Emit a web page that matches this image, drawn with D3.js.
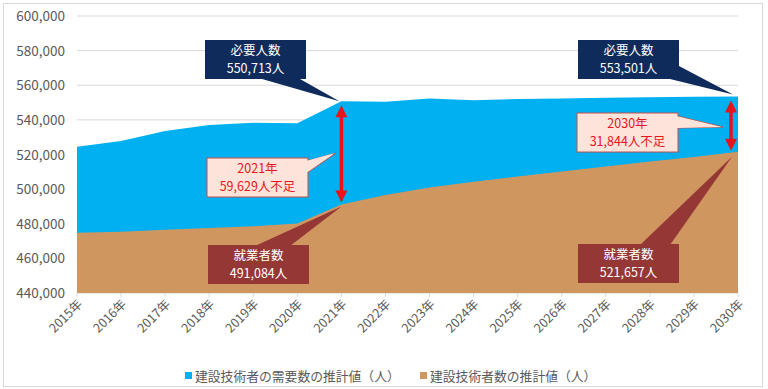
<!DOCTYPE html>
<html>
<head>
<meta charset="utf-8">
<script src="https://cdn.jsdelivr.net/npm/d3@7"></script>
<style>
  body { margin: 0; background: #fff; }
  svg { display: block; font-family: "Noto Sans CJK JP", "Noto Sans", sans-serif; }
</style>
</head>
<body>
<script>
// data
var years = ['2015年','2016年','2017年','2018年','2019年','2020年','2021年','2022年','2023年','2024年','2025年','2026年','2027年','2028年','2029年','2030年'];
var demand = [524500, 527800, 533600, 537000, 538400, 538000, 550713, 550500, 552300, 551300, 552000, 552400, 552800, 553100, 553300, 553501];
var supply = [474800, 475400, 476600, 477600, 478600, 480200, 491084, 496600, 501000, 504300, 507300, 510200, 513100, 515900, 518600, 521657];
var yTicks = [440000, 460000, 480000, 500000, 520000, 540000, 560000, 580000, 600000];
var legendNames = ['建設技術者の需要数の推計値（人）', '建設技術者数の推計値（人）'];
var colors = ['#00b0f0', '#d09660'];

var W = 768, H = 389;
var svg = d3.select('body').append('svg')
  .attr('width', W)
  .attr('height', H);

// outer border
svg.append('rect')
  .attr('x', 3.5).attr('y', 3.5)
  .attr('width', 759).attr('height', 383)
  .attr('fill', '#fff')
  .attr('stroke', '#d9d9d9');

var x = d3.scalePoint().domain(years).range([77, 738]);
var y = d3.scaleLinear().domain([440000, 600000]).range([293, 16]);

// gridlines
svg.append('g')
  .selectAll('line')
  .data(yTicks)
  .enter()
  .append('line')
  .attr('x1', 77).attr('x2', 738)
  .attr('y1', d => y(d)).attr('y2', d => y(d))
  .attr('stroke', '#d9d9d9');

// y labels
svg.append('g')
  .selectAll('text')
  .data(yTicks)
  .enter()
  .append('text')
  .attr('x', 65)
  .attr('y', d => y(d) + 5)
  .attr('text-anchor', 'end')
  .attr('font-size', 13.5)
  .attr('fill', '#595959')
  .text(d => d3.format(',')(d));

var area = function(vals){
  return d3.area()
    .x((d, i) => x(years[i]))
    .y0(y(440000))
    .y1(d => y(d))(vals);
};

svg.append('path').attr('d', area(demand)).attr('fill', colors[0]);
svg.append('path').attr('d', area(supply)).attr('fill', colors[1]);

// x axis ticks and labels
var xg = svg.append('g');
xg.selectAll('line')
  .data(years)
  .enter()
  .append('line')
  .attr('x1', d => x(d)).attr('x2', d => x(d))
  .attr('y1', 293).attr('y2', 297)
  .attr('stroke', '#d9d9d9');

xg.selectAll('text')
  .data(years)
  .enter()
  .append('text')
  .attr('text-anchor', 'end')
  .attr('transform', d => 'translate(' + (x(d) + 6) + ',305) rotate(-45)')
  .attr('font-size', 12.5)
  .attr('fill', '#595959')
  .text(d => d);

// legend
var leg = svg.append('g');
var legX = [185, 420];
legendNames.forEach(function(name, i){
  leg.append('rect')
    .attr('x', legX[i]).attr('y', 372)
    .attr('width', 7).attr('height', 7)
    .attr('fill', colors[i]);
  leg.append('text')
    .attr('x', legX[i] + 10).attr('y', 381)
    .attr('font-size', 12.8)
    .attr('fill', '#595959')
    .text(name);
});

// annotations
var i21 = years.indexOf('2021年'), i30 = years.indexOf('2030年');
var fmt = d3.format(',');

function box(bx, by, fill, stroke, tail, lines, color){
  var g = svg.append('g');
  g.append('polygon')
    .attr('points', tail.map(p => p.join(',')).join(' '))
    .attr('fill', fill)
    .attr('stroke', stroke || 'none');
  g.append('rect')
    .attr('x', bx).attr('y', by)
    .attr('width', 101).attr('height', 39)
    .attr('fill', fill)
    .attr('stroke', stroke || 'none');
  if (stroke) {
    // hide the seam where the tail joins the box
    g.append('polygon')
      .attr('points', tail.map(p => p.join(',')).join(' '))
      .attr('fill', fill)
      .attr('transform', 'translate(-1.2,0)');
  }
  lines.forEach(function(t, k){
    g.append('text')
      .attr('x', bx + 50.5)
      .attr('y', by + 15 + k * 18)
      .attr('text-anchor', 'middle')
      .attr('font-size', 12.5)
      .attr('fill', color)
      .text(t);
  });
}

function arrow(ax, y1, y2){
  var g = svg.append('g');
  g.append('line')
    .attr('x1', ax).attr('x2', ax)
    .attr('y1', y1 + 10).attr('y2', y2 - 10)
    .attr('stroke', '#e8141c').attr('stroke-width', 3.5);
  g.append('polygon')
    .attr('points', [[ax, y1], [ax - 6, y1 + 12], [ax + 6, y1 + 12]].map(p => p.join(',')).join(' '))
    .attr('fill', '#e8141c');
  g.append('polygon')
    .attr('points', [[ax, y2], [ax - 6, y2 - 12], [ax + 6, y2 - 12]].map(p => p.join(',')).join(' '))
    .attr('fill', '#e8141c');
}

var ax21 = x(years[i21]), ax30 = x(years[i30]) - 7;

// 2021
box(205, 40, '#0f2b5b', null, [[262, 79], [300, 79], [ax21 - 2, y(demand[i21])]],
  ['必要人数', fmt(demand[i21]) + '人'], '#fff');
arrow(ax21, y(demand[i21]) + 4, y(supply[i21]) - 2);
box(207, 158, '#fde4da', '#c0504d', [[307, 161], [307, 173], [ax21 - 6, y(demand[i21]) + 52]],
  ['2021年', fmt(demand[i21] - supply[i21]) + '人不足'], '#e8141c');
box(208, 245, '#953735', null, [[255, 246], [290, 246], [ax21, y(supply[i21]) + 2]],
  ['就業者数', fmt(supply[i21]) + '人'], '#fff');

// 2030
box(578, 40, '#0f2b5b', null, [[670, 79], [679, 66], [ax30 + 2, y(demand[i30]) - 2]],
  ['必要人数', fmt(demand[i30]) + '人'], '#fff');
arrow(ax30, y(demand[i30]) + 4, y(supply[i30]) - 1);
box(577, 113, '#fde4da', '#c0504d', [[677, 116], [677, 128], [ax30 - 8, 127]],
  ['2030年', fmt(demand[i30] - supply[i30]) + '人不足'], '#e8141c');
box(578, 244, '#953735', null, [[640, 245], [670, 245], [ax30 + 1, y(supply[i30]) + 5]],
  ['就業者数', fmt(supply[i30]) + '人'], '#fff');
</script>
</body>
</html>
